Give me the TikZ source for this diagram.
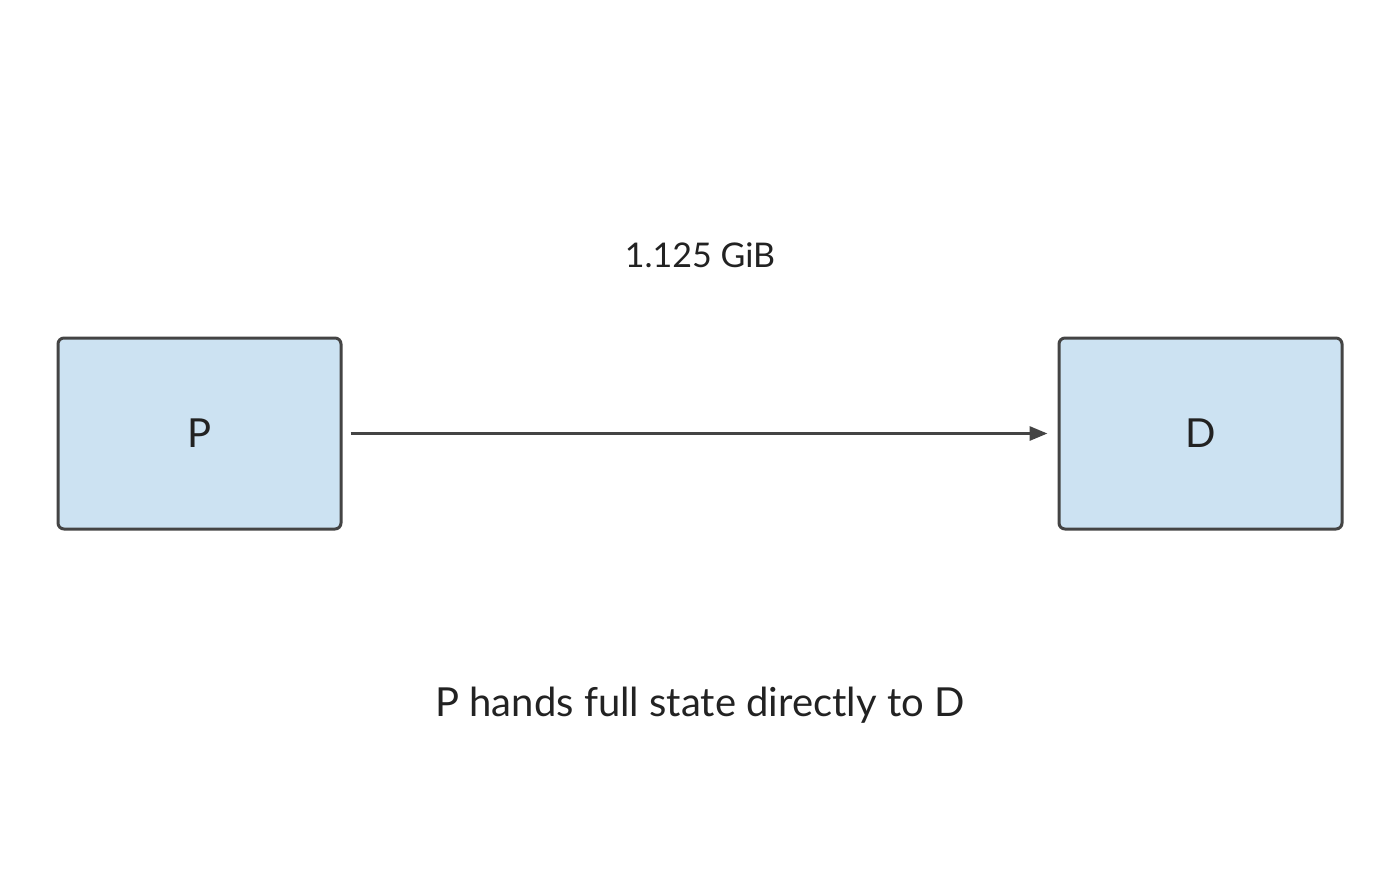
\documentclass[tikz,border=0pt]{standalone}
\usepackage{fontspec}
\setmainfont{Lato}
\usetikzlibrary{arrows.meta}
\definecolor{boxfill}{HTML}{CCE2F2}
\definecolor{edge}{HTML}{444444}
\definecolor{txt}{HTML}{222222}
\begin{document}
\begin{tikzpicture}[x=0.5pt,y=-0.5pt,
  box/.style={draw=edge,fill=boxfill,line width=1.5pt,rounded corners=3pt,minimum width=141.5pt,minimum height=95.5pt,inner sep=0pt,font=\fontsize{20}{24}\selectfont,text=txt},
  lbl/.style={text=txt,inner sep=0pt}]
\useasboundingbox (0,0) rectangle (1400,868);
\node[box] (P) at (199.5,433.5) {P};
\node[box] (D) at (1200.5,433.5) {D};
\draw[edge,line width=1.5pt,-{Triangle[length=9pt,width=7pt]}] ([xshift=4pt]P.east) -- ([xshift=-5pt]D.west);
\node[lbl,font=\fontsize{17}{20}\selectfont] (L) at (700,255) {1.125 GiB};
\node[lbl,font=\fontsize{20}{24}\selectfont] (C) at (700,705) {P hands full state directly to D};
\end{tikzpicture}
\end{document}
